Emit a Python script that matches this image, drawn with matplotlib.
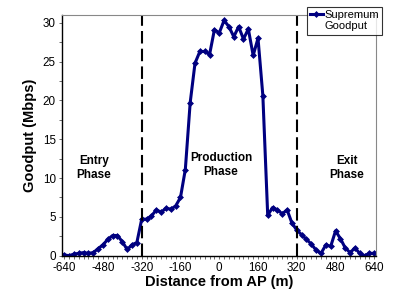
import numpy as np
import matplotlib.pyplot as plt
from matplotlib.lines import Line2D
from matplotlib.ticker import MultipleLocator

plt.rcParams['font.family'] = ['Liberation Sans', 'DejaVu Sans']
plt.rcParams['axes.unicode_minus'] = False

# distance from the access point (m), one sample every 20 m
distance = np.arange(-640, 641, 20)

# supremum goodput (Mbps)
goodput = [0.1, 0.0, 0.2, 0.3, 0.4, 0.3, 0.4, 0.9, 1.4, 2.1,
           2.6, 2.6, 1.8, 0.8, 1.4, 1.7, 4.7, 4.7, 5.1, 5.9,
           5.6, 6.1, 6.0, 6.4, 7.5, 11.1, 19.7, 24.8, 26.3, 26.3,
           25.9, 29.1, 28.7, 30.3, 29.5, 28.2, 29.5, 27.9, 29.2, 25.8,
           28.0, 20.6, 5.2, 6.2, 5.9, 5.4, 5.9, 4.2, 3.3, 2.7,
           2.1, 1.5, 0.7, 0.3, 1.4, 1.2, 3.2, 2.2, 1.0, 0.4,
           1.0, 0.3, 0.0, 0.3, 0.3]

phase_bounds = [-320, 320]
phase_names = ['Entry\nPhase', 'Production\nPhase', 'Exit\nPhase']
phase_x = [-517, 7, 526]
phase_y = [11.3, 11.7, 11.3]

xticks = np.arange(-640, 641, 160)
yticks = np.arange(0, 31, 5)

fig = plt.figure(figsize=(4.01, 2.93), dpi=100)
ax = fig.add_axes([0.1546, 0.1273, 0.9377 - 0.1546, 0.9488 - 0.1273])

line, = ax.plot(distance, goodput, color='#000080', lw=2.2,
                marker='D', markersize=3, markeredgewidth=0.5)

for b in phase_bounds:
    ax.axvline(b, color='black', lw=1.5, linestyle=(0, (6, 2.5)))

for name, px, py in zip(phase_names, phase_x, phase_y):
    ax.text(px, py, name, ha='center', va='center', fontsize=8.5,
            fontweight='bold', linespacing=1.15)

ax.set_xlim(-649, 647)
ax.set_ylim(0, 31)
ax.set_xticks(xticks)
ax.set_yticks(yticks)
ax.xaxis.set_minor_locator(MultipleLocator(20))
ax.yaxis.set_minor_locator(MultipleLocator(2.5))
ax.tick_params(axis='both', which='both', direction='out', length=2.5,
               width=0.6, color='#555555', labelsize=8.4, pad=2)
ax.tick_params(axis='y', which='minor', length=2)
ax.tick_params(axis='x', which='minor', length=2.2)
ax.tick_params(top=False, right=False)

ax.spines['left'].set_color('black')
ax.spines['bottom'].set_color('black')
ax.spines['left'].set_linewidth(1.0)
ax.spines['bottom'].set_linewidth(1.0)
ax.spines['top'].set_color('#888888')
ax.spines['right'].set_color('#888888')
ax.spines['top'].set_linewidth(0.8)
ax.spines['right'].set_linewidth(0.8)

ax.set_xlabel('Distance from AP (m)', fontsize=10.5, fontweight='bold', labelpad=1)
ax.set_ylabel('Goodput (Mbps)', fontsize=10.5, fontweight='bold', labelpad=4)

blank = Line2D([], [], color='none')
leg = fig.legend([line, blank], ['Supremum', 'Goodput'],
                 loc='upper left', bbox_to_anchor=(307 / 401, 1 - 7 / 293),
                 fontsize=8, frameon=True, fancybox=False, handlelength=1.1,
                 handletextpad=0.15, labelspacing=0.1, borderpad=0.3,
                 borderaxespad=0, markerscale=1.0)
leg.get_frame().set_edgecolor('black')
leg.get_frame().set_linewidth(0.8)

fig.savefig('out.png', dpi=100)
